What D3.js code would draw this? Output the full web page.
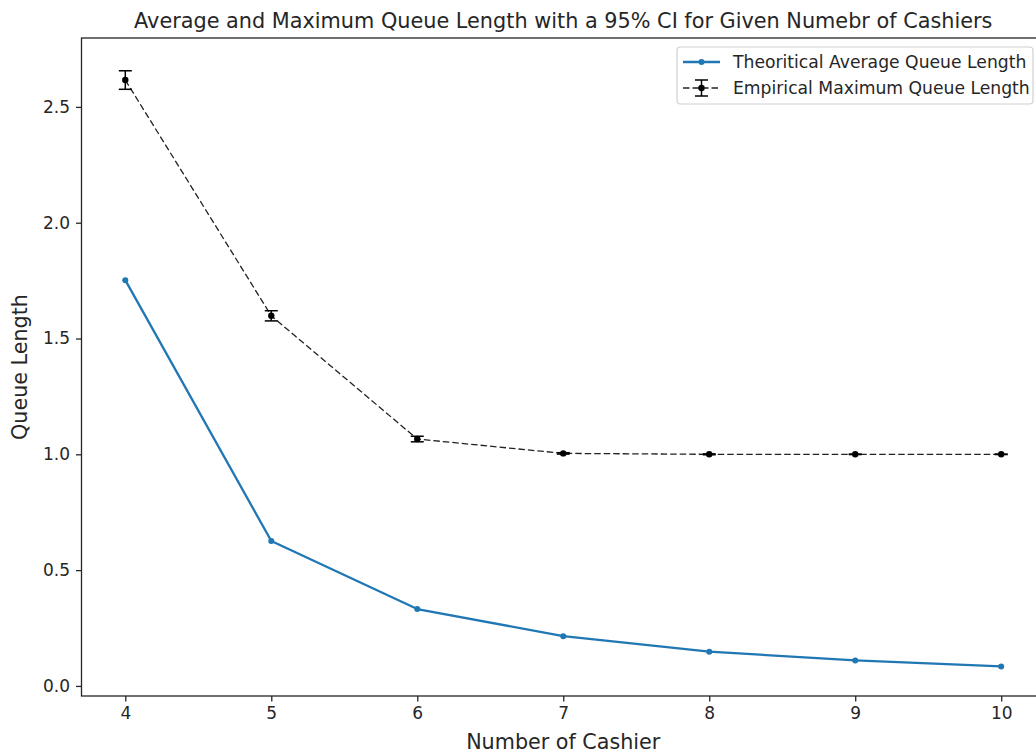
<!DOCTYPE html>
<html><head><meta charset="utf-8">
<script src="https://cdn.jsdelivr.net/npm/d3@7"></script>
<style>body{margin:0;background:#fff}svg{display:block}text{font-family:"DejaVu Sans",sans-serif;fill:#262626}</style>
</head><body><svg id="c" width="1036" height="755"></svg>
<script>
const cashiers = [4, 5, 6, 7, 8, 9, 10];
const theoreticalAvg = [1.752, 0.626, 0.332, 0.215, 0.148, 0.110, 0.084];
const empiricalMax = [2.616, 1.598, 1.066, 1.004, 1.0, 1.0, 1.0];
const empiricalCI = [0.040, 0.022, 0.012, 0.003, 0.002, 0.001, 0.001];
const xTicks = [4, 5, 6, 7, 8, 9, 10];
const yTicks = [0.0, 0.5, 1.0, 1.5, 2.0, 2.5];
const title = "Average and Maximum Queue Length with a 95% CI for Given Numebr of Cashiers";
const xLabel = "Number of Cashier";
const yLabel = "Queue Length";
const legendLabels = ["Theoritical Average Queue Length", "Empirical Maximum Queue Length"];

const svg = d3.select("#c");
const L = 81.5, R = 1045, T = 38, B = 696;
const x = d3.scaleLinear().domain([3.7, 10.3]).range([L, R]);
const y = d3.scaleLinear().domain([-0.0435, 2.7975]).range([B, T]);
const blue = "#1f77b4";

// axes
const xa = svg.append("g").attr("transform", `translate(0,${B})`)
  .call(d3.axisBottom(x).tickValues(xTicks).tickFormat(d3.format("d")).tickSizeOuter(0).tickSize(5.5).tickPadding(5));
const ya = svg.append("g").attr("transform", `translate(${L},0)`)
  .call(d3.axisLeft(y).tickValues(yTicks).tickFormat(d3.format(".1f")).tickSizeOuter(0).tickSize(5.5).tickPadding(6));
[xa, ya].forEach(a => {
  a.select(".domain").remove();
  a.selectAll("line").attr("stroke", "#262626").attr("stroke-width", 1.3);
  a.selectAll("text").attr("font-size", 17).attr("font-family", "DejaVu Sans").attr("fill", "#262626");
});
// spines
svg.append("rect").attr("x", L).attr("y", T).attr("width", R - L).attr("height", B - T)
  .attr("fill", "none").attr("stroke", "#262626").attr("stroke-width", 1.3);

// title and labels
svg.append("text").attr("x", (L + R) / 2).attr("y", 28).attr("text-anchor", "middle").attr("font-size", 20.8).text(title);
svg.append("text").attr("x", (L + R) / 2).attr("y", 749).attr("text-anchor", "middle").attr("font-size", 20.7).text(xLabel);
svg.append("text").attr("transform", `translate(27,${(T + B) / 2}) rotate(-90)`).attr("text-anchor", "middle").attr("font-size", 20.7).text(yLabel);

const plot = svg.append("g");
const line = d3.line();

// theoretical
const tPts = cashiers.map((c, i) => [x(c), y(theoreticalAvg[i])]);
plot.append("path").attr("d", line(tPts)).attr("fill", "none").attr("stroke", blue).attr("stroke-width", 2.3).attr("stroke-linejoin", "round");
plot.selectAll(".tp").data(tPts).join("circle").attr("cx", d => d[0]).attr("cy", d => d[1]).attr("r", 3).attr("fill", blue);

// empirical
const ePts = cashiers.map((c, i) => [x(c), y(empiricalMax[i])]);
plot.append("path").attr("d", line(ePts)).attr("fill", "none").attr("stroke", "#222").attr("stroke-width", 1.3).attr("stroke-dasharray", "6.5,3");
cashiers.forEach((c, i) => {
  const cx = x(c), y0 = y(empiricalMax[i] - empiricalCI[i]), y1 = y(empiricalMax[i] + empiricalCI[i]);
  plot.append("line").attr("x1", cx).attr("x2", cx).attr("y1", y0).attr("y2", y1).attr("stroke", "#000").attr("stroke-width", 1.5);
  [y0, y1].forEach(yy => plot.append("line").attr("x1", cx - 6.5).attr("x2", cx + 6.5).attr("y1", yy).attr("y2", yy).attr("stroke", "#000").attr("stroke-width", 1.5));
});
plot.selectAll(".ep").data(ePts).join("circle").attr("cx", d => d[0]).attr("cy", d => d[1]).attr("r", 3.2).attr("fill", "#000");

// legend
const lg = svg.append("g");
lg.append("rect").attr("x", 677).attr("y", 47).attr("width", 356).attr("height", 57).attr("rx", 3.5)
  .attr("fill", "#fff").attr("fill-opacity", 0.8).attr("stroke", "#d0d0d0").attr("stroke-width", 1.2);
const ly = [62, 88];
lg.append("line").attr("x1", 683).attr("x2", 720).attr("y1", ly[0]).attr("y2", ly[0]).attr("stroke", blue).attr("stroke-width", 2.3);
lg.append("circle").attr("cx", 701.5).attr("cy", ly[0]).attr("r", 3).attr("fill", blue);
lg.append("line").attr("x1", 683).attr("x2", 720).attr("y1", ly[1]).attr("y2", ly[1]).attr("stroke", "#222").attr("stroke-width", 1.3).attr("stroke-dasharray", "6.5,3");
lg.append("line").attr("x1", 701.5).attr("x2", 701.5).attr("y1", ly[1] - 8).attr("y2", ly[1] + 8).attr("stroke", "#000").attr("stroke-width", 1.5);
[ly[1] - 8, ly[1] + 8].forEach(yy => lg.append("line").attr("x1", 695).attr("x2", 708).attr("y1", yy).attr("y2", yy).attr("stroke", "#000").attr("stroke-width", 1.5));
lg.append("circle").attr("cx", 701.5).attr("cy", ly[1]).attr("r", 3.2).attr("fill", "#000");
legendLabels.forEach((t, i) => lg.append("text").attr("x", 733).attr("y", ly[i] + 6).attr("font-size", 17.2).text(t));
</script></body></html>
